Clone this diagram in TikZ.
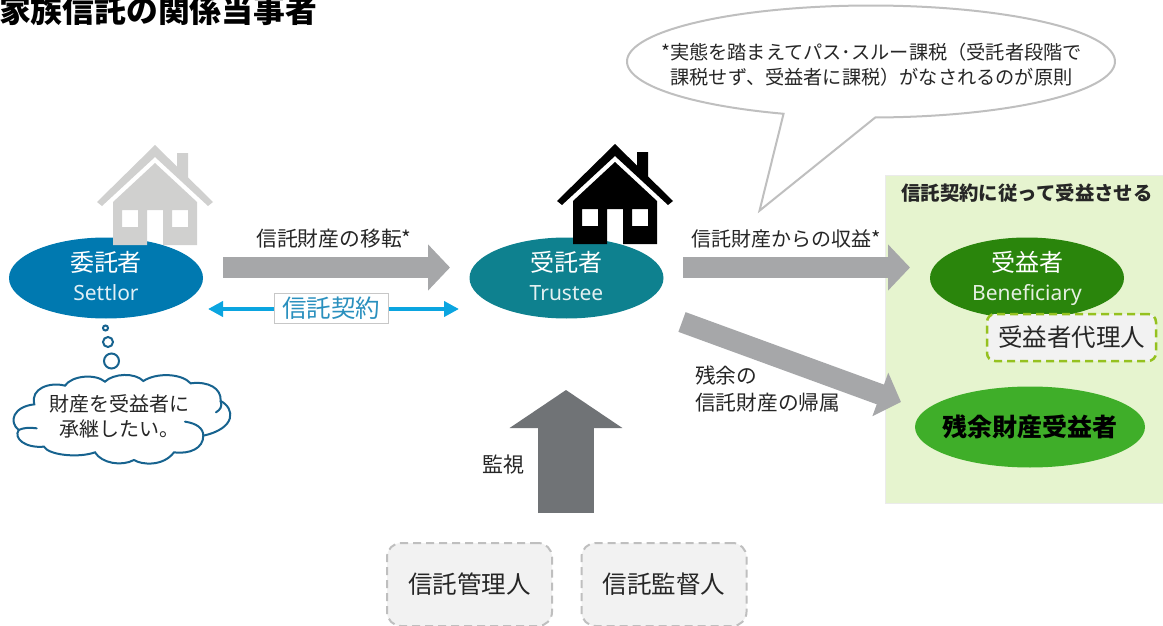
\documentclass[tikz,border=0pt]{standalone}
\usepackage{fontspec}
\setmainfont{Noto Sans}
\newfontfamily\jp{Noto Sans CJK JP}
\usetikzlibrary{shapes.geometric,arrows.meta}
\definecolor{txt}{HTML}{262626}
\definecolor{farrow}{HTML}{A6A7A9}
\definecolor{cldblue}{HTML}{17638F}
\definecolor{panelgreen}{HTML}{E6F4CF}
\definecolor{settlorc}{HTML}{0079B0}
\definecolor{trusteec}{HTML}{0E818F}
\definecolor{benefc}{HTML}{2A850C}
\definecolor{residc}{HTML}{3FAE29}
\definecolor{upc}{HTML}{707376}
\definecolor{contractc}{HTML}{0BA5E0}
\definecolor{contractt}{HTML}{2A90BE}
\definecolor{houseg}{HTML}{D0D0CF}
\definecolor{agentdash}{HTML}{95C11F}
\newcommand{\fs}[1]{\fontsize{#1}{#1}\selectfont}
\newcommand{\enlow}{\rule[-8pt]{0pt}{1pt}}
\newcommand{\jphigh}{\rule{0pt}{24pt}}
\newcommand{\myhouse}[3]{%
  \begin{scope}[shift={(#1,#2)}]
    \fill[#3] (0,0) -- (22,21.6) -- (22,8) -- (33,8) -- (33,32.4) -- (58,57) -- (53,61) -- (0,12) -- (-53,61) -- (-58,57) -- cycle;
    \fill[#3,even odd rule] (0,18) -- (42,57) -- (42,100) -- (8,100) -- (8,65) -- (-8,65) -- (-8,100) -- (-42,100) -- (-42,57) -- cycle
      (-33,65) rectangle (-17,82) (17,65) rectangle (33,82);
  \end{scope}}
\tikzset{
  party/.style={ellipse,inner xsep=0pt,inner ysep=-8pt,minimum width=194pt,minimum height=81pt,text=white,align=center,font=\jp\fs{24}},
  lbl/.style={text=txt,inner sep=0pt,font=\jp\fs{20},align=left},
  fat/.style={draw=farrow,line width=21pt,-{Triangle[length=22pt,width=45pt]}},
  dashbox/.style={rounded corners=14pt,fill=black!5,draw=black!25,line width=2pt,dash pattern=on 8pt off 5pt,minimum width=165pt,minimum height=83pt,inner sep=0pt,text=txt,font=\jp\fs{24.5}},
  bubble/.style={draw=cldblue,line width=2pt,fill=white},
}
\begin{document}
\begin{tikzpicture}[x=1pt,y=-1pt]
\useasboundingbox (0,0) rectangle (1163,626);
% panel
\node[fill=panelgreen,draw=black!8,line width=.6pt,minimum width=279pt,minimum height=328pt,inner sep=0pt,anchor=north west] (panel) at (884.5,175) {};
\node[text=txt,inner sep=0pt,font=\jp\bfseries\fs{19.4}] (paneltitle) at (1027,193) {信託契約に従って受益させる};
% title
\node[text=black,inner sep=0pt,anchor=west,font=\jp\bfseries\fs{31.8}] (title) at (-1,10.5) {家族信託の関係当事者};
% ellipses
\node[party,fill=settlorc] (settlor) at (106,278) {\jphigh 委託者\\[5pt]{\normalfont\fs{21}\color{white!88!settlorc}Settlor\enlow}};
\node[party,fill=trusteec] (trustee) at (566.5,278) {\jphigh 受託者\\[5pt]{\normalfont\fs{21}\color{white!88!trusteec}Trustee\enlow}};
\node[party,fill=benefc] (benef) at (1027,278) {\jphigh 受益者\\[5pt]{\normalfont\fs{21}\color{white!88!benefc}Beneficiary\enlow}};
\node[ellipse,inner sep=0pt,inner xsep=-25pt,minimum width=230pt,minimum height=81pt,fill=residc,text=black,font=\jp\bfseries\fs{25}] (resid) at (1030,427) {残余財産受益者};
% houses
\myhouse{155}{145}{houseg}
\myhouse{615}{144}{black}
% fat arrows
\coordinate (a1s) at (223,267.5); \coordinate (a1e) at (450,267.5);
\coordinate (a2s) at (683,267.5); \coordinate (a2e) at (910,267.5);
\coordinate (a3s) at (682,322);   \coordinate (a3e) at (901,402);
\coordinate (a4s) at (566,513);   \coordinate (a4e) at (566,390);
\draw[fat] (a1s) -- (a1e);
\draw[fat] (a2s) -- (a2e);
\draw[fat] (a3s) -- (a3e);
\draw[draw=upc,line width=56.6pt,-{Triangle[length=38pt,width=111pt]}] (a4s) -- (a4e);
% contract
\coordinate (c1) at (208,309); \coordinate (c2) at (459,309);
\draw[draw=contractc,line width=4.5pt,{Triangle[length=15pt,width=15pt]}-{Triangle[length=15pt,width=15pt]}] (c1) -- (c2);
\node[fill=white,draw=black!22,line width=.8pt,minimum width=114pt,minimum height=30pt,inner sep=0pt,text=contractt,font=\jp\fs{24.5}] (contract) at (331,308) {信託契約};
% labels
\node[lbl,anchor=west,font=\jp\fs{20.8}] (l1) at (256,239) {信託財産の移転*};
\node[lbl,anchor=west] (l2) at (691,239) {信託財産からの収益*};
\node[lbl,anchor=north west,font=\jp\fs{20.7}] (l3) at (695,366) {残余の\\[5.5pt]信託財産の帰属};
\node[lbl,anchor=west,font=\jp\fs{21}] (l4) at (482,465) {監視};
% boxes
\node[dashbox] (kanri) at (469.5,584.5) {信託管理人};
\node[dashbox] (kantoku) at (664,584.5) {信託監督人};
\node[rounded corners=8pt,fill=black!5,draw=agentdash,line width=2.5pt,dash pattern=on 8pt off 5pt,minimum width=169pt,minimum height=47pt,inner sep=0pt,text=txt,font=\jp\fs{24.5}] (agent) at (1071.5,337.5) {受益者代理人};
% thought circles
\draw[cldblue,line width=2pt] (105.5,328) circle[radius=2.5];
\draw[cldblue,line width=2pt] (108,342) circle[radius=5];
\draw[cldblue,line width=2pt] (111.5,361) circle[radius=7.5];
% cloud
\begin{scope}[yshift=-365pt,x=.3333pt,y=-.3333pt]
\draw[bubble,line cap=round]
 (103,118) .. controls (90,70) and (150,50) .. (195,62)
 .. controls (215,32) and (285,25) .. (315,50)
 .. controls (340,25) and (405,22) .. (430,48)
 .. controls (470,22) and (545,25) .. (572,55)
 .. controls (625,48) and (665,70) .. (662,108)
 .. controls (705,130) and (710,190) .. (610,212)
 .. controls (610,250) and (570,268) .. (522,262)
 .. controls (490,305) and (425,300) .. (402,285)
 .. controls (365,305) and (305,295) .. (285,262)
 .. controls (235,280) and (145,270) .. (132,245)
 .. controls (75,250) and (40,220) .. (56,195)
 .. controls (25,170) and (40,125) .. (103,118) -- cycle;
\draw[cldblue,line width=2pt,line cap=round] (555,170) .. controls (590,175) and (610,190) .. (610,212);
\draw[cldblue,line width=2pt,line cap=round] (662,108) .. controls (668,125) and (660,135) .. (648,142);
\draw[cldblue,line width=2pt,line cap=round] (56,195) .. controls (70,188) and (90,187) .. (110,190);
\end{scope}
\node[inner sep=0pt,text=txt,font=\jp\fs{20},align=center] (cloudtxt) at (119,416) {財産を受益者に\\[5pt]承継したい。};
% callout
\draw[draw=black!25,line width=2pt,fill=white] plot[domain=111:449,samples=150] ({871+244*cos(\x)},{61.5+56*sin(\x)}) -- (759.5,210.7) -- cycle;
\node[inner sep=0pt,text=txt,font=\jp\fs{19.2},align=center] (calltxt) at (871.5,65) {*実態を踏まえてパス･スルー課税（受託者段階で\\[6pt]課税せず、受益者に課税）がなされるのが原則};
\end{tikzpicture}
\end{document}
